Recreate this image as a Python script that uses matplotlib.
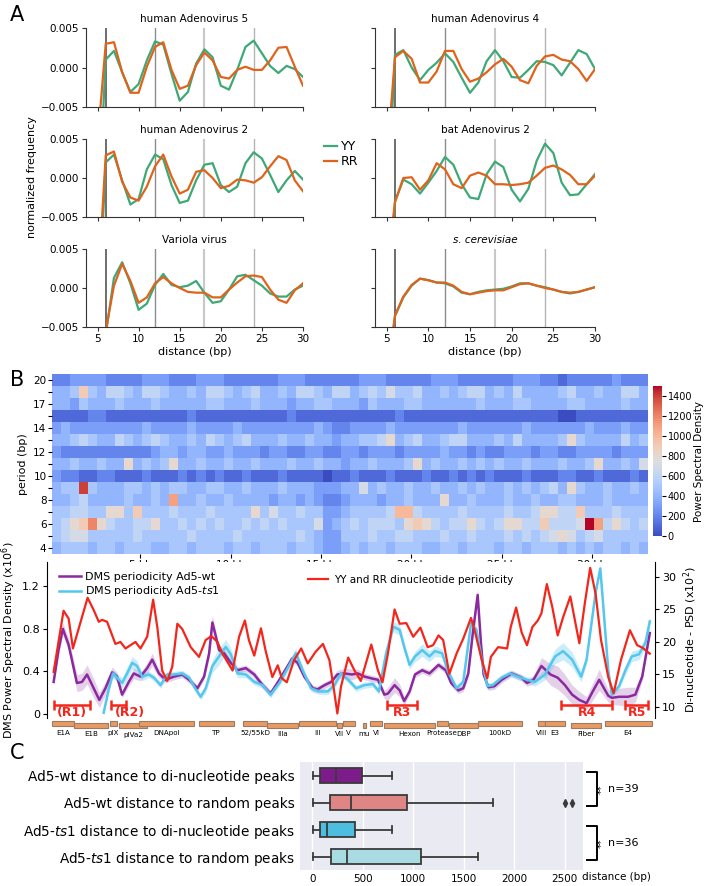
import numpy as np
import matplotlib
matplotlib.use("Agg")
import matplotlib.pyplot as plt
from matplotlib.patches import Rectangle
from matplotlib.transforms import blended_transform_factory

W, H = 705, 886

# ---------------- panel A : dinucleotide frequency vs distance ----------------
DIST = list(range(5, 31))
A_TITLES = ["human Adenovirus 5", "human Adenovirus 4", "human Adenovirus 2",
            "bat Adenovirus 2", "Variola virus", "s. cerevisiae"]

ad5_yy = [-0.02, 0.0010, 0.0021, -0.0006, -0.0031, -0.0021, 0.0009, 0.0033, 0.0029, -0.0008,
          -0.0042, -0.0031, 0.0005, 0.0023, 0.0013, -0.0023, -0.0028, -0.0003, 0.0026, 0.0034,
          0.0018, 0.0002, -0.0007, 0.0002, -0.0002, -0.0012]
ad5_rr = [-0.0095, 0.0030, 0.0032, -0.0006, -0.0032, -0.0032, 0.0001, 0.0026, 0.0032, -0.0003,
          -0.0027, -0.0023, 0.0003, 0.0019, 0.0009, -0.0012, -0.0014, -0.0003, 0.0001, -0.0003,
          -0.0003, 0.0009, 0.0025, 0.0026, 0.0001, -0.0023]
ad4_yy = [-0.02, 0.0016, 0.0022, 0.0000, -0.0016, -0.0003, 0.0006, 0.0018, 0.0007, -0.0013,
          -0.0032, -0.0019, 0.0008, 0.0022, 0.0008, -0.0012, -0.0013, -0.0003, 0.0008, 0.0007,
          0.0003, -0.0010, 0.0006, 0.0022, 0.0017, -0.0002]
ad4_rr = [-0.012, 0.0013, 0.0021, 0.0011, -0.0019, -0.0019, -0.0005, 0.0021, 0.0021, -0.0002,
          -0.0018, -0.0014, -0.0006, 0.0004, 0.0011, 0.0001, -0.0016, -0.0020, 0.0002, 0.0014,
          0.0016, 0.0010, 0.0008, -0.0002, -0.0017, -0.0002]
ad2_yy = [-0.02, 0.0020, 0.0030, -0.0003, -0.0034, -0.0027, 0.0011, 0.0030, 0.0024, -0.0009,
          -0.0032, -0.0029, -0.0003, 0.0017, 0.0019, -0.0009, -0.0018, -0.0011, 0.0019, 0.0033,
          0.0025, 0.0004, -0.0018, -0.0003, 0.0009, -0.0002]
ad2_rr = [-0.015, 0.0029, 0.0034, -0.0005, -0.0025, -0.0029, -0.0011, 0.0015, 0.0030, 0.0002,
          -0.0020, -0.0015, 0.0008, 0.0010, 0.0000, -0.0013, -0.0010, -0.0002, -0.0003, -0.0006,
          0.0001, 0.0015, 0.0028, 0.0023, -0.0003, -0.0017]
bat2_yy = [-0.02, -0.0030, -0.0002, -0.0008, -0.0020, -0.0006, 0.0009, 0.0027, 0.0017, -0.0008,
           -0.0025, -0.0027, 0.0005, 0.0021, 0.0014, -0.0015, -0.0030, -0.0014, 0.0022, 0.0044,
           0.0032, -0.0006, -0.0022, -0.0021, -0.0008, 0.0005]
bat2_rr = [-0.012, -0.0031, 0.0000, 0.0001, -0.0015, -0.0003, 0.0019, 0.0011, -0.0008, -0.0013,
           0.0003, 0.0007, 0.0003, -0.0008, -0.0008, -0.0009, -0.0008, -0.0006, 0.0003, 0.0013,
           0.0016, 0.0011, 0.0004, -0.0008, -0.0008, 0.0003]
variola_yy = [-0.02, -0.0060, 0.0013, 0.0033, 0.0006, -0.0028, -0.0020, 0.0004, 0.0018, 0.0004,
              0.0001, 0.0003, 0.0009, -0.0006, -0.0019, -0.0017, -0.0002, 0.0015, 0.0017, 0.0010,
              0.0003, -0.0007, -0.0011, -0.0011, -0.0002, 0.0003]
variola_rr = [-0.02, -0.0055, 0.0003, 0.0031, 0.0009, -0.0019, -0.0012, 0.0006, 0.0014, 0.0006,
              0.0000, -0.0005, -0.0006, -0.0006, -0.0012, -0.0012, -0.0002, 0.0007, 0.0015, 0.0016,
              0.0014, -0.0002, -0.0015, -0.0019, -0.0003, 0.0006]
scer_yy = [-0.012, -0.0036, -0.0012, 0.0003, 0.0012, 0.0010, 0.0007, 0.0006, 0.0002, -0.0006,
           -0.0008, -0.0005, -0.0003, -0.0002, -0.0001, 0.0002, 0.0006, 0.0006, 0.0003, 0.0001,
           -0.0002, -0.0005, -0.0007, -0.0005, -0.0002, 0.0001]
scer_rr = [-0.012, -0.0035, -0.0011, 0.0004, 0.0012, 0.0010, 0.0007, 0.0007, 0.0003, -0.0005,
           -0.0008, -0.0006, -0.0004, -0.0003, -0.0003, 0.0001, 0.0005, 0.0006, 0.0003, 0.0000,
           -0.0002, -0.0005, -0.0006, -0.0005, -0.0002, 0.0001]

A_YY = [ad5_yy, ad4_yy, ad2_yy, bat2_yy, variola_yy, scer_yy]
A_RR = [ad5_rr, ad4_rr, ad2_rr, bat2_rr, variola_rr, scer_rr]
GUIDE_X = [6, 12, 18, 24]

# ---------------- panel B : heatmap of PSD per period ----------------
PERIODS = ["20", "18", "17", "15", "14", "13", "12", "11", "10", "9", "8", "7", "6", "5", "4"]
# one hex digit per 0.5 kb window, value x100 = PSD
HEAT_ROWS = [
    "223333 222233 322233 322222 233322 222233 322222 333222 222333 221222 223222",
    "445954 665466 544546 654564 454665 466456 575564 454566 454644 445644 544664",
    "443544 454445 444445 544454 443445 544435 444554 444445 444554 444554 444544",
    "111122 111111 111211 111111 112111 111111 112111 111111 111111 110011 111111",
    "343333 333343 333433 334333 333334 322333 343333 333433 333343 333334 333433",
    "445654 465456 544546 545644 454454 434455 684564 456644 454644 445854 444645",
    "322222 222223 443443 343332 332233 223323 332333 343323 223332 332233 332333",
    "445445 448454 584454 454454 445445 443445 444584 544545 454454 445445 844547",
    "322112 211121 112121 211211 121111 011211 121112 112121 211121 112211 211121",
    "455e54 445545 455445 544544 454443 334474 544544 544545 445454 564854 454454",
    "445644 445445 4b4454 454444 344343 223444 344544 484454 445445 445544 454444",
    "556655 885955 565556 555585 755655 334555 56aa65 555655 556556 886695 556555",
    "5689c8 655668 556565 655656 565557 345656 665898 656686 568866 96667f b68656",
    "567755 555655 555655 556555 555654 335556 556655 565565 556565 678756 755555",
    "455545 545554 455455 545545 554554 334545 545554 455455 545545 554545 455454",
]
HEAT_START_KB = 0.1
HEAT_STEP_KB = 0.5
KB_TICKS = [5, 10, 15, 20, 25, 30]

# ---------------- panel B : periodicity along the genome ----------------
red_kb = [0.19, 0.74, 1.02, 1.26, 2.07, 2.41, 2.69, 2.87, 3.15, 3.61,
          3.89, 4.17, 4.72, 5.0, 5.37, 5.70, 5.93, 6.2, 6.48, 6.76,
          7.04, 7.31, 7.78, 8.24, 8.61, 8.93, 9.26, 9.54, 10.1, 10.46,
          10.78, 11.0, 11.3, 11.67, 11.94, 12.3, 12.6, 12.83, 13.1, 13.5,
          13.9, 14.26, 14.7, 15.1, 15.46, 15.74, 15.9, 16.1, 16.5, 16.85,
          17.2, 17.78, 18.15, 18.4, 18.7, 19.07, 19.35, 19.72, 20.1, 20.5,
          20.9, 21.2, 21.5, 21.76, 22.1, 22.5, 22.87, 23.3, 23.5, 23.9,
          24.2, 24.4, 24.8, 25.3, 25.5, 25.8, 26.1, 26.4, 26.7, 27.0,
          27.2, 27.5, 27.8, 28.1, 28.4, 28.8, 29.07, 29.3, 29.6, 29.9,
          30.2, 30.5, 30.9, 31.2, 31.6, 32.1, 32.5, 32.8, 33.2]
red_psd = [15.4, 24.8, 23.6, 19.0, 26.8, 24.9, 23.1, 23.4, 23.1, 19.7,
           20.0, 19.0, 20.0, 19.0, 20.8, 26.5, 22.3, 15.6, 14.0, 16.2,
           22.8, 22.0, 19.2, 17.7, 20.3, 20.9, 20.0, 18.2, 15.6, 20.8,
           23.3, 20.3, 17.9, 22.1, 18.5, 14.6, 16.4, 14.4, 13.8, 17.2,
           19.0, 16.7, 18.5, 19.7, 17.2, 12.1, 9.0, 13.1, 17.6, 15.6,
           14.0, 19.6, 15.6, 13.8, 18.2, 25.0, 22.8, 22.9, 20.8, 22.2,
           19.2, 19.5, 21.0, 20.3, 15.1, 18.2, 20.5, 23.7, 21.8, 17.2,
           14.4, 17.7, 19.2, 19.0, 22.3, 25.3, 21.5, 19.5, 22.3, 23.3,
           24.4, 28.9, 25.4, 21.0, 23.8, 27.0, 23.1, 19.8, 25.9, 31.4,
           27.4, 20.3, 14.6, 12.1, 17.2, 21.8, 19.5, 19.1, 18.2]

wt_kb = [0.19, 0.46, 0.70, 1.02, 1.48, 1.76, 2.04, 2.41, 2.72, 3.06,
         3.43, 3.7, 3.98, 4.35, 4.63, 5.0, 5.37, 5.65, 6.02, 6.39,
         6.85, 7.31, 7.69, 8.15, 8.52, 8.8, 8.98, 9.17, 9.35, 9.63,
         10.0, 10.37, 10.83, 11.3, 11.76, 12.2, 12.69, 13.15, 13.39, 13.7,
         14.07, 14.54, 14.8, 15.2, 15.56, 15.9, 16.3, 16.7, 17.04, 17.4,
         17.87, 18.15, 18.5, 18.7, 19.07, 19.35, 19.6, 19.9, 20.2, 20.6,
         21.0, 21.5, 21.9, 22.2, 22.6, 22.87, 23.15, 23.4, 23.67, 23.85,
         24.0, 24.26, 24.6, 25.0, 25.55, 26.1, 26.4, 26.76, 27.2, 27.7,
         28.1, 28.5, 28.9, 29.3, 29.7, 30.04, 30.4, 30.6, 30.9, 31.1,
         31.5, 32.0, 32.4, 32.78, 33.2]
wt_psd = [0.30, 0.60, 0.80, 0.65, 0.29, 0.30, 0.37, 0.24, 0.13, 0.24,
          0.39, 0.35, 0.18, 0.30, 0.38, 0.35, 0.43, 0.51, 0.38, 0.32,
          0.35, 0.37, 0.32, 0.24, 0.35, 0.57, 0.86, 0.73, 0.60, 0.57,
          0.48, 0.41, 0.43, 0.37, 0.27, 0.19, 0.32, 0.45, 0.52, 0.48,
          0.35, 0.24, 0.23, 0.27, 0.30, 0.37, 0.38, 0.37, 0.38, 0.35,
          0.33, 0.32, 0.18, 0.19, 0.27, 0.22, 0.12, 0.21, 0.37, 0.41,
          0.38, 0.46, 0.41, 0.29, 0.22, 0.24, 0.38, 0.76, 1.12, 0.67,
          0.37, 0.25, 0.26, 0.32, 0.38, 0.34, 0.29, 0.32, 0.45, 0.37,
          0.34, 0.27, 0.18, 0.13, 0.10, 0.21, 0.32, 0.26, 0.17, 0.15,
          0.16, 0.16, 0.18, 0.35, 0.76]
wt_err = [0.03, 0.05, 0.06, 0.06, 0.08, 0.08, 0.09, 0.09, 0.07, 0.06,
          0.05, 0.04, 0.03, 0.04, 0.05, 0.04, 0.05, 0.06, 0.04, 0.03,
          0.03, 0.03, 0.03, 0.03, 0.03, 0.05, 0.07, 0.05, 0.04, 0.04,
          0.03, 0.03, 0.03, 0.03, 0.03, 0.03, 0.03, 0.03, 0.03, 0.03,
          0.03, 0.03, 0.03, 0.03, 0.03, 0.04, 0.05, 0.05, 0.04, 0.03,
          0.03, 0.03, 0.04, 0.06, 0.07, 0.06, 0.04, 0.03, 0.03, 0.03,
          0.03, 0.03, 0.03, 0.03, 0.03, 0.03, 0.04, 0.05, 0.06, 0.04,
          0.03, 0.03, 0.03, 0.03, 0.03, 0.03, 0.03, 0.04, 0.08, 0.10,
          0.11, 0.10, 0.09, 0.08, 0.06, 0.08, 0.10, 0.08, 0.06, 0.06,
          0.08, 0.09, 0.07, 0.04, 0.04]

ts1_kb = [2.96, 3.24, 3.48, 3.7, 3.98, 4.26, 4.54, 4.81, 5.09, 5.46,
          5.74, 6.11, 6.48, 6.85, 7.31, 7.69, 8.06, 8.33, 8.61, 8.98,
          9.35, 9.72, 10.0, 10.37, 10.83, 11.3, 11.76, 12.2, 12.69, 13.15,
          13.6, 13.98, 14.44, 14.9, 15.37, 15.74, 16.1, 16.5, 16.94, 17.4,
          17.87, 18.2, 18.6, 19.0, 19.35, 19.6, 19.9, 20.2, 20.6, 21.0,
          21.3, 21.7, 22.0, 22.5, 22.87, 23.3, 23.6, 23.9, 24.2, 24.5,
          25.0, 25.46, 25.9, 26.4, 26.85, 27.4, 27.96, 28.4, 28.9, 29.4,
          29.7, 30.2, 30.46, 30.6, 30.9, 31.1, 31.5, 31.85, 32.2, 32.6,
          32.96, 33.2]
ts1_psd = [0.01, 0.23, 0.38, 0.34, 0.29, 0.38, 0.48, 0.45, 0.35, 0.37,
           0.34, 0.27, 0.37, 0.37, 0.38, 0.34, 0.23, 0.16, 0.24, 0.45,
           0.54, 0.63, 0.56, 0.38, 0.37, 0.30, 0.27, 0.18, 0.29, 0.43,
           0.57, 0.41, 0.24, 0.21, 0.21, 0.27, 0.38, 0.32, 0.24, 0.27,
           0.28, 0.21, 0.57, 0.82, 0.79, 0.63, 0.46, 0.54, 0.60, 0.54,
           0.59, 0.57, 0.41, 0.24, 0.30, 0.85, 0.79, 0.51, 0.26, 0.27,
           0.34, 0.38, 0.35, 0.32, 0.30, 0.37, 0.54, 0.59, 0.51, 0.35,
           0.51, 1.14, 1.37, 1.07, 0.41, 0.18, 0.26, 0.41, 0.54, 0.56,
           0.67, 0.87]
ts1_err = [0.02, 0.03, 0.03, 0.04, 0.05, 0.06, 0.06, 0.05, 0.04, 0.03,
           0.03, 0.03, 0.03, 0.03, 0.03, 0.03, 0.03, 0.03, 0.04, 0.06,
           0.08, 0.07, 0.06, 0.04, 0.03, 0.03, 0.03, 0.03, 0.03, 0.04,
           0.05, 0.04, 0.03, 0.03, 0.03, 0.03, 0.03, 0.03, 0.03, 0.03,
           0.03, 0.03, 0.04, 0.05, 0.05, 0.05, 0.04, 0.05, 0.06, 0.05,
           0.05, 0.04, 0.03, 0.03, 0.03, 0.04, 0.04, 0.03, 0.03, 0.03,
           0.03, 0.03, 0.03, 0.03, 0.04, 0.05, 0.07, 0.08, 0.07, 0.05,
           0.04, 0.03, 0.03, 0.03, 0.03, 0.03, 0.03, 0.04, 0.05, 0.05,
           0.05, 0.05]

R_NAMES = ["(R1)", "(R2)", "R3", "R4", "R5"]
R_START = [0.19, 3.39, 18.65, 28.3, 31.85]
R_END = [2.22, 4.22, 20.3, 31.1, 33.1]

GENES = ["E1A", "E1B", "pIX", "pIVa2", "DNApol", "TP", "52/55kD", "IIIa", "III", "VII", "V",
         "mu", "VI", "Hexon", "Protease", "DBP", "100kD", "VIII", "E3", "Fiber", "E4"]
GENE_START = [0.09, 1.33, 3.3, 3.8, 4.9, 8.24, 10.7, 12.0, 13.8, 15.9, 16.2,
              17.3, 17.7, 18.5, 21.4, 22.1, 23.7, 27.0, 27.4, 28.85, 30.7]
GENE_END = [1.33, 3.19, 3.7, 5.37, 7.96, 10.15, 12.0, 13.7, 15.8, 16.15, 16.85,
            17.5, 18.4, 21.3, 22.0, 23.7, 26.1, 27.4, 28.5, 30.5, 33.3]
GENE_TRACK = [0, 1, 0, 1, 0, 0, 0, 1, 0, 1, 0, 1, 0, 1, 0, 1, 0, 0, 0, 1, 0]

# ---------------- panel C : distances ----------------
C_LABELS = ["Ad5-wt distance to di-nucleotide peaks",
            "Ad5-wt distance to random peaks",
            r"Ad5-$\it{ts1}$ distance to di-nucleotide peaks",
            r"Ad5-$\it{ts1}$ distance to random peaks"]
C_WHISLO = [10, 10, 10, 10]
C_Q1 = [76, 179, 76, 188]
C_MED = [232, 388, 152, 344]
C_Q3 = [491, 937, 424, 1080]
C_WHISHI = [790, 1786, 790, 1638]
C_FLIERS = [[], [2500, 2567], [], []]
C_N = ["n=39", "n=36"]

GREEN = "#3fa877"
ORANGE = "#e0631c"
PURPLE = "#8a2a9e"
CYAN = "#55c6ee"
RED = "#f2261b"
C_COLORS = ["#7b1c8a", "#df8586", "#4dbde0", "#a9dce2"]


def box(x0, y0, x1, y1):
    # pixel box (origin top-left) -> figure fraction rect
    return [x0 / W, 1 - y1 / H, (x1 - x0) / W, (y1 - y0) / H]


fig = plt.figure(figsize=(W / 100, H / 100), dpi=100)

# ---- A ----
cols_x = [(86, 303), (375, 595)]
rows_y = [(28, 107), (139, 217), (249, 327)]
guide_style = [("#6e6e6e", 1.4), ("#8c8c8c", 1.0), ("#c8c8c8", 1.5), ("#b4b4b4", 1.0)]
axes_a = []
for k in range(6):
    r, c = divmod(k, 2)
    ax = fig.add_axes(box(cols_x[c][0], rows_y[r][0], cols_x[c][1], rows_y[r][1]))
    for xv, (gc, glw) in zip(GUIDE_X, guide_style):
        ax.axvline(xv, color=gc, lw=glw, zorder=0)
    ax.plot(DIST, A_YY[k], color=GREEN, lw=1.6, label="YY")
    ax.plot(DIST, A_RR[k], color=ORANGE, lw=1.6, label="RR")
    ax.set_xlim(3.6, 30)
    ax.set_ylim(-0.005, 0.005)
    ax.set_xticks([5, 10, 15, 20, 25, 30])
    ax.set_yticks([-0.005, 0.0, 0.005])
    for s in ("top", "right"):
        ax.spines[s].set_visible(False)
    for s in ("left", "bottom"):
        ax.spines[s].set_color("#333333")
    ax.tick_params(labelsize=7.5, length=3, color="#333333", pad=2)
    style = "italic" if k == 5 else "normal"
    ax.set_title(A_TITLES[k], fontsize=7.5, pad=4, style=style)
    if c == 1:
        ax.set_yticklabels([])
    if r < 2:
        ax.set_xticklabels([])
    else:
        ax.set_xlabel("distance (bp)", fontsize=8, labelpad=2)
    axes_a.append(ax)

h, l = axes_a[0].get_legend_handles_labels()
fig.legend(h, l, loc="center left", bbox_to_anchor=(318 / W, 1 - 154 / H), frameon=False,
           fontsize=9, handlelength=1.0, handletextpad=0.3, labelspacing=0.15, borderpad=0)
fig.text(32 / W, 1 - 177 / H, "normalized frequency", rotation=90, fontsize=8,
         ha="center", va="center")

# ---- B heatmap ----
psd = np.array([[int(ch, 16) * 100 for ch in row.replace(" ", "")] for row in HEAT_ROWS])
x_edges = HEAT_START_KB + HEAT_STEP_KB * np.arange(psd.shape[1] + 1)
y_edges = np.arange(len(PERIODS) + 1) - 0.5
ax_h = fig.add_axes(box(52, 374, 648, 554))
mesh = ax_h.pcolormesh(x_edges, y_edges, psd, cmap="coolwarm", vmin=0, vmax=1500)
ax_h.set_xlim(x_edges[0], x_edges[-1])
ax_h.set_ylim(len(PERIODS) - 0.5, -0.5)
ax_h.set_yticks(np.arange(len(PERIODS)))
ax_h.set_yticklabels([p if i % 2 == 0 else "" for i, p in enumerate(PERIODS)])
ax_h.set_xticks(KB_TICKS)
ax_h.set_xticklabels([f"{v} kb" for v in KB_TICKS])
ax_h.tick_params(labelsize=7.5, length=3, pad=1)
for s in ax_h.spines.values():
    s.set_visible(False)
ax_h.set_ylabel("period (bp)", fontsize=8, labelpad=4)

cax = fig.add_axes(box(653, 386, 662, 536))
cb = fig.colorbar(mesh, cax=cax)
cb.set_ticks([0, 200, 400, 600, 800, 1000, 1200, 1400])
cb.outline.set_visible(False)
cax.tick_params(labelsize=7, length=3, pad=1)
cax.set_ylabel("Power Spectral Density", fontsize=7.5, labelpad=1)

# ---- B line plot ----
ax_l = fig.add_axes(box(47, 562, 655, 718))
ax_r = ax_l.twinx()
xlim = (HEAT_START_KB - 5 / 18.06, HEAT_START_KB + 603 / 18.06)

wt_psd_a, wt_err_a = np.array(wt_psd), np.array(wt_err)
ts1_psd_a, ts1_err_a = np.array(ts1_psd), np.array(ts1_err)
ax_l.fill_between(wt_kb, wt_psd_a - wt_err_a, wt_psd_a + wt_err_a, color=PURPLE, alpha=0.22, lw=0)
ax_l.fill_between(ts1_kb, ts1_psd_a - ts1_err_a, ts1_psd_a + ts1_err_a, color=CYAN, alpha=0.3, lw=0)
ax_l.plot(wt_kb, wt_psd, color=PURPLE, lw=1.8, label="DMS periodicity Ad5-wt")
ax_l.plot(ts1_kb, ts1_psd, color=CYAN, lw=1.8, label=r"DMS periodicity Ad5-$\it{ts1}$")
ax_r.plot(red_kb, red_psd, color=RED, lw=1.6, label="YY and RR dinucleotide periodicity")

for name, s0, s1 in zip(R_NAMES, R_START, R_END):
    ax_l.plot([s0, s1], [0.085, 0.085], color=RED, lw=1.8, marker="|", ms=7, mew=1.8,
              solid_capstyle="butt")
    dx = 0.6 if name == "(R2)" else 0.0
    ax_l.text((s0 + s1) / 2 + dx, 0.012, name, color=RED, fontsize=9, fontweight="bold",
              ha="center", va="center")

ax_l.set_xlim(*xlim)
ax_l.set_ylim(-0.04, 1.43)
ax_r.set_ylim(8.3, 32.3)
ax_l.set_xticks([])
ax_l.set_yticks([0, 0.4, 0.8, 1.2])
ax_l.set_yticklabels(["0", "0.4", "0.8", "1.2"])
ax_r.set_yticks([10, 15, 20, 25, 30])
for a in (ax_l, ax_r):
    a.spines["top"].set_visible(False)
    a.spines["bottom"].set_visible(False)
    a.tick_params(labelsize=8, length=3, pad=2)
ax_l.spines["right"].set_visible(False)
ax_r.spines["left"].set_visible(False)
ax_l.set_ylabel(r"DMS Power Spectral Density (x10$^6$)", fontsize=8, labelpad=3)
ax_r.set_ylabel(r"Di-nucleotide - PSD (x10$^2$)", fontsize=8, labelpad=4)
ax_l.legend(loc="upper left", bbox_to_anchor=(0.01, 0.97), frameon=False, fontsize=8,
            handlelength=2.0, handletextpad=0.4, labelspacing=0.2, borderpad=0)
ax_r.legend(loc="upper left", bbox_to_anchor=(0.42, 0.95), frameon=False, fontsize=7.5,
            handlelength=2.0, handletextpad=0.5, borderpad=0)

# gene map
ax_g = fig.add_axes(box(47, 718, 655, 742))
ax_g.set_xlim(*xlim)
ax_g.set_ylim(24, 0)
ax_g.axis("off")
for name, s0, s1, tr in zip(GENES, GENE_START, GENE_END, GENE_TRACK):
    y0 = 3 + 2 * tr
    ax_g.add_patch(Rectangle((s0, y0), s1 - s0, 4.5, facecolor="#e99a62",
                             edgecolor="#9a7b66", lw=0.8))
    ax_g.text((s0 + s1) / 2, 15 + 1.5 * tr, name, fontsize=5.1, ha="center", va="center")

# ---- C ----
ax_c = fig.add_axes(box(300, 762, 583, 870))
ax_c.set_facecolor("#eaeaf2")
stats = []
for i in range(4):
    stats.append(dict(med=C_MED[i], q1=C_Q1[i], q3=C_Q3[i], whislo=C_WHISLO[i],
                      whishi=C_WHISHI[i], fliers=C_FLIERS[i]))
edge = "#3a3a3a"
kw = dict(positions=range(4), widths=0.55, patch_artist=True,
          boxprops=dict(edgecolor=edge, lw=1.3),
          medianprops=dict(color=edge, lw=1.3),
          whiskerprops=dict(color=edge, lw=1.3),
          capprops=dict(color=edge, lw=1.3),
          flierprops=dict(marker="d", markerfacecolor=edge, markeredgecolor=edge, markersize=4))
try:
    bp = ax_c.bxp(stats, orientation="horizontal", **kw)
except TypeError:
    bp = ax_c.bxp(stats, vert=False, **kw)
for patch, col in zip(bp["boxes"], C_COLORS):
    patch.set_facecolor(col)
ax_c.set_ylim(3.5, -0.5)
ax_c.set_xlim(-120, 2680)
ax_c.set_xticks([0, 500, 1000, 1500, 2000, 2500])
ax_c.set_yticks(range(4))
ax_c.set_yticklabels(C_LABELS, fontsize=9.8)
ax_c.tick_params(axis="x", labelsize=7.5, length=0, pad=3)
ax_c.tick_params(axis="y", length=0, pad=4)
ax_c.grid(axis="x", color="white", lw=1.0)
ax_c.set_axisbelow(True)
for s in ax_c.spines.values():
    s.set_visible(False)
fig.text(616 / W, 1 - 877 / H, "distance (bp)", fontsize=7.5, ha="center", va="center")

tr = blended_transform_factory(ax_c.transAxes, ax_c.transData)
for j, n_txt in enumerate(C_N):
    y0, y1 = 2 * j, 2 * j + 1
    ax_c.plot([1.015, 1.05, 1.05, 1.015], [y0 - 0.12, y0 - 0.12, y1 + 0.12, y1 + 0.12],
              color="black", lw=1.4, transform=tr, clip_on=False)
    ax_c.text(1.068, (y0 + y1) / 2, "**", rotation=90, fontsize=7, ha="center", va="center",
              transform=tr)
    ax_c.text(1.09, (y0 + y1) / 2, n_txt, fontsize=8, ha="left", va="center", transform=tr)

# panel letters
fig.text(10 / W, 1 - 15 / H, "A", fontsize=15, va="center")
fig.text(10 / W, 1 - 380 / H, "B", fontsize=15, va="center")
fig.text(10 / W, 1 - 753 / H, "C", fontsize=15, va="center")

fig.savefig("out.png", dpi=100)
